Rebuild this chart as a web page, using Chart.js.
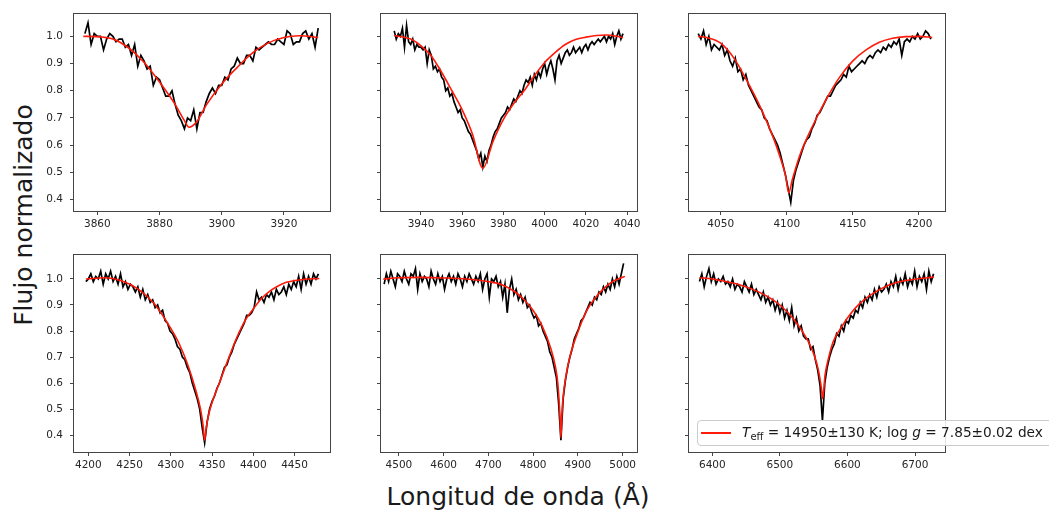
<!DOCTYPE html>
<html>
<head>
<meta charset="utf-8">
<script src="https://cdn.jsdelivr.net/npm/chart.js@4.4.0/dist/chart.umd.min.js"></script>
<style>
  body { margin: 0; background: #fff; width: 1049px; height: 514px; overflow: hidden; position: relative; font-family: 'DejaVu Sans', sans-serif; color: #1a1a1a; }
  canvas { position: absolute; }
  #ylab { position: absolute; left: 23px; top: 215px; transform: translate(-50%, -50%) rotate(-90deg); font-size: 25px; white-space: nowrap; }
  #xlab { position: absolute; left: 518px; top: 496px; transform: translate(-50%, -50%); font-size: 25px; white-space: nowrap; }
  #legend { position: absolute; left: 697px; top: 420px; width: 362px; height: 24px; border: 1px solid #cccccc; border-radius: 4px; background: rgba(255,255,255,0.85); font-size: 13.7px; display: flex; align-items: center; white-space: nowrap; z-index: 5; }
  #legend .sw { display: inline-block; width: 30px; height: 1.7px; background: #ff1a0a; margin-left: 3px; margin-right: 11px; }
  #legend sub { font-size: 10px; vertical-align: -3px; }
</style>
</head>
<body>
<div id="ylab">Flujo normalizado</div>
<div id="xlab">Longitud de onda (Å)</div>
<div id="legend"><span class="sw"></span><span><i>T</i><sub>eff</sub> = 14950±130 K; log <i>g</i> = 7.85±0.02 dex</span></div>
<script>
// tick labels
const yTicks = [0.4, 0.5, 0.6, 0.7, 0.8, 0.9, 1.0];
const xTicks1 = [3860, 3880, 3900, 3920];
const xTicks2 = [3940, 3960, 3980, 4000, 4020, 4040];
const xTicks3 = [4050, 4100, 4150, 4200];
const xTicks4 = [4200, 4250, 4300, 4350, 4400, 4450];
const xTicks5 = [4500, 4600, 4700, 4800, 4900, 5000];
const xTicks6 = [6400, 6500, 6600, 6700];

// observed spectra (uniform wavelength grid: start, step)
const obs1Grid = [3856, 1];
const obs1Flux = [1.01, 1.05, 0.97, 1.01, 1.00, 1.00, 0.95, 0.99, 1.01, 1.00,
  0.98, 0.99, 0.99, 0.96, 0.97, 0.93, 0.97, 0.89, 0.93, 0.91,
  0.88, 0.89, 0.82, 0.85, 0.84, 0.81, 0.78, 0.78, 0.80, 0.75,
  0.71, 0.69, 0.66, 0.70, 0.69, 0.73, 0.66, 0.72, 0.72, 0.76,
  0.79, 0.81, 0.79, 0.82, 0.82, 0.85, 0.84, 0.88, 0.89, 0.92,
  0.90, 0.90, 0.93, 0.93, 0.91, 0.96, 0.95, 0.96, 0.97, 0.98,
  0.97, 0.97, 0.99, 0.98, 0.97, 1.02, 1.01, 0.97, 0.98, 0.98,
  1.01, 1.02, 0.99, 1.01, 0.96, 1.03];

const obs2Grid = [3927, 1];
const obs2Flux = [1.02, 0.99, 1.01, 1.00, 1.03, 0.96, 1.04, 0.98, 0.97, 0.99,
  0.95, 0.97, 0.96, 0.96, 0.95, 0.96, 0.90, 0.95, 0.93, 0.88,
  0.89, 0.87, 0.88, 0.85, 0.84, 0.80, 0.81, 0.78, 0.79, 0.76,
  0.74, 0.72, 0.73, 0.70, 0.69, 0.67, 0.65, 0.64, 0.62, 0.60,
  0.58, 0.55, 0.57, 0.52, 0.56, 0.54, 0.58, 0.60, 0.63, 0.65,
  0.66, 0.68, 0.70, 0.71, 0.72, 0.74, 0.73, 0.75, 0.77, 0.76,
  0.78, 0.80, 0.79, 0.82, 0.84, 0.83, 0.85, 0.82, 0.86, 0.84,
  0.87, 0.85, 0.88, 0.90, 0.86, 0.89, 0.91, 0.88, 0.84, 0.91,
  0.93, 0.90, 0.92, 0.94, 0.95, 0.93, 0.94, 0.96, 0.94, 0.95,
  0.96, 0.94, 0.96, 0.97, 0.95, 0.97, 0.98, 0.97, 0.98, 0.99,
  0.98, 0.99, 1.00, 0.98, 1.00, 0.99, 1.01, 0.97, 1.00, 1.02,
  0.99, 1.01];

const obs3Grid = [4033, 2];
const obs3Flux = [1.01, 0.99, 1.02, 0.97, 1.00, 0.95, 0.97, 0.96, 0.95, 0.97,
  0.93, 0.95, 0.91, 0.89, 0.92, 0.87, 0.88, 0.84, 0.86, 0.82,
  0.80, 0.78, 0.76, 0.74, 0.73, 0.70, 0.69, 0.66, 0.64, 0.62,
  0.60, 0.57, 0.53, 0.49, 0.44, 0.39, 0.47, 0.51, 0.54, 0.57,
  0.60, 0.62, 0.63, 0.66, 0.68, 0.71, 0.72, 0.74, 0.76, 0.78,
  0.78, 0.80, 0.82, 0.83, 0.84, 0.86, 0.85, 0.89, 0.87, 0.88,
  0.89, 0.90, 0.91, 0.90, 0.92, 0.93, 0.92, 0.94, 0.95, 0.94,
  0.96, 0.95, 0.97, 0.96, 0.98, 0.97, 0.99, 0.93, 0.98, 0.99,
  0.98, 1.00, 0.99, 1.01, 0.99, 1.00, 1.02, 1.01, 0.99];

const obs4Grid = [4197, 3];
const obs4Flux = [0.99, 1.00, 1.02, 0.99, 1.01, 1.00, 1.03, 0.98, 1.02, 1.00,
  1.03, 0.99, 1.01, 0.98, 1.02, 0.97, 0.99, 0.96, 0.98, 0.97,
  0.95, 0.97, 0.93, 0.96, 0.92, 0.94, 0.91, 0.92, 0.89, 0.90,
  0.87, 0.88, 0.84, 0.83, 0.80, 0.79, 0.77, 0.74, 0.73, 0.70,
  0.69, 0.66, 0.64, 0.60, 0.57, 0.54, 0.50, 0.43, 0.37, 0.45,
  0.50, 0.53, 0.55, 0.58, 0.60, 0.63, 0.66, 0.67, 0.70, 0.72,
  0.75, 0.77, 0.79, 0.81, 0.83, 0.86, 0.86, 0.87, 0.89, 0.95,
  0.92, 0.93, 0.91, 0.94, 0.93, 0.95, 0.92, 0.96, 0.94, 0.95,
  0.97, 0.94, 0.98, 0.96, 0.99, 0.97, 1.01, 0.96, 1.02, 0.98,
  1.01, 0.98, 1.02, 1.00, 1.02];

const obs5Grid = [4467, 5];
const obs5Flux = [0.98, 1.02, 0.99, 1.03, 1.00, 0.97, 1.02, 1.01, 0.99, 1.03,
  1.00, 0.98, 1.02, 1.01, 1.04, 0.96, 1.02, 0.99, 1.01, 1.00,
  0.97, 1.03, 1.00, 0.98, 1.02, 0.99, 1.01, 0.96, 1.00, 1.02,
  0.99, 1.01, 0.98, 1.02, 1.00, 0.97, 1.01, 0.99, 1.02, 1.00,
  0.98, 1.01, 0.99, 1.02, 0.96, 1.00, 1.02, 0.93, 1.00, 0.99,
  1.01, 0.97, 0.99, 0.93, 0.98, 0.87, 0.96, 1.00, 0.94, 0.96,
  0.92, 0.94, 0.91, 0.93, 0.89, 0.90, 0.87, 0.85, 0.86, 0.82,
  0.83, 0.80, 0.78, 0.76, 0.72, 0.70, 0.66, 0.62, 0.52, 0.38,
  0.54, 0.61, 0.66, 0.70, 0.73, 0.77, 0.79, 0.81, 0.84, 0.85,
  0.87, 0.89, 0.91, 0.90, 0.93, 0.92, 0.95, 0.94, 0.97, 0.95,
  0.98, 0.96, 1.00, 0.97, 1.01, 0.98, 1.02, 1.06];

const obs6Grid = [6381, 3.5];
const obs6Flux = [0.99, 1.02, 0.97, 1.01, 1.04, 0.99, 1.02, 0.98, 1.00, 0.99,
  1.01, 0.98, 0.99, 0.97, 1.00, 0.96, 0.98, 0.97, 0.95, 0.99,
  0.97, 0.95, 0.98, 0.94, 0.96, 0.94, 0.92, 0.95, 0.91, 0.93,
  0.90, 0.92, 0.88, 0.91, 0.87, 0.90, 0.85, 0.88, 0.84, 0.89,
  0.82, 0.85, 0.80, 0.82, 0.78, 0.77, 0.77, 0.73, 0.74, 0.69,
  0.65, 0.59, 0.455,
  0.60, 0.66, 0.70, 0.73, 0.75, 0.79, 0.78,
  0.82, 0.80, 0.84, 0.83, 0.86, 0.85, 0.88, 0.87, 0.91, 0.89,
  0.93, 0.91, 0.94, 0.92, 0.96, 0.93, 0.97, 0.95, 0.96, 0.98,
  0.95, 0.99, 0.97, 1.01, 0.96, 1.00, 0.98, 1.02, 0.97, 1.00,
  0.98, 1.03, 0.97, 1.01, 0.99, 1.02, 0.96, 1.03, 0.99, 1.02];

// model fits
const model1Wave = [3855.5, 3860, 3865, 3870, 3875, 3880, 3885, 3888, 3889.5, 3892, 3895, 3900, 3905, 3910, 3915, 3920, 3925, 3931];
const model1Flux = [1.0, 0.999, 0.99, 0.958, 0.905, 0.832, 0.75, 0.69, 0.666, 0.687, 0.747, 0.825, 0.886, 0.94, 0.976, 0.996, 1.002, 0.996];

const model2Wave = [3927, 3935, 3940, 3945, 3950, 3955, 3960, 3965, 3970, 3975, 3980, 3985, 3990, 3995, 4000, 4005, 4010, 4015, 4020, 4025, 4030, 4035, 4038];
const model2Flux = [1.003, 0.99, 0.965, 0.928, 0.868, 0.80, 0.73, 0.64, 0.515, 0.615, 0.695, 0.753, 0.80, 0.855, 0.904, 0.94, 0.97, 0.988, 0.997, 1.003, 1.005, 1.0, 0.995];

const model3Wave = [4033, 4040, 4050, 4060, 4070, 4080, 4090, 4095, 4099, 4101.5, 4104, 4107, 4110, 4120, 4130, 4140, 4150, 4160, 4170, 4180, 4190, 4200, 4210];
const model3Flux = [1.0, 0.995, 0.975, 0.92, 0.835, 0.74, 0.625, 0.555, 0.49, 0.425, 0.47, 0.52, 0.565, 0.675, 0.77, 0.85, 0.91, 0.95, 0.978, 0.993, 0.999, 1.0, 0.996];

const model4Wave = [4197, 4210, 4220, 4240, 4260, 4280, 4300, 4310, 4320, 4330, 4336, 4339, 4341, 4343, 4346, 4350, 4360, 4370, 4380, 4390, 4400, 4410, 4420, 4430, 4440, 4460, 4480];
const model4Flux = [1.0, 1.003, 1.005, 0.993, 0.962, 0.905, 0.81, 0.752, 0.675, 0.575, 0.5, 0.44, 0.38, 0.43, 0.48, 0.525, 0.61, 0.695, 0.775, 0.84, 0.885, 0.925, 0.953, 0.973, 0.987, 0.998, 1.002];

const model5Wave = [4465, 4500, 4550, 4600, 4650, 4700, 4730, 4760, 4780, 4800, 4820, 4840, 4850, 4855, 4860, 4862, 4864, 4866, 4875, 4885, 4900, 4920, 4940, 4960, 4980, 5005];
const model5Flux = [0.999, 1.005, 1.006, 1.004, 1.0, 0.99, 0.978, 0.95, 0.92, 0.879, 0.82, 0.73, 0.66, 0.60, 0.47, 0.39, 0.47, 0.53, 0.645, 0.72, 0.797, 0.879, 0.93, 0.967, 0.992, 1.01];

const model6Wave = [6381, 6400, 6420, 6440, 6460, 6480, 6500, 6520, 6540, 6550, 6557, 6562, 6563.3, 6567, 6572, 6579, 6590, 6600, 6618, 6648, 6678, 6700, 6728];
const model6Flux = [1.005, 1.0, 0.99, 0.978, 0.96, 0.935, 0.90, 0.847, 0.77, 0.713, 0.65, 0.57, 0.54, 0.633, 0.696, 0.76, 0.81, 0.85, 0.905, 0.96, 0.99, 0.999, 1.007];

function gridWave(g, n) { return Array.from({ length: n }, (_, i) => g[0] + i * g[1]); }
function pts(xs, ys) { return xs.map((x, i) => ({ x: x, y: ys[i] })); }

const PAD_L = 60, PAD_R = 10, PAD_T = 10, PAD_B = 30, AREA_W = 256, AREA_H = 200;
const rows = [{ top: 11, yMin: 0.358, yMax: 1.081 }, { top: 252, yMin: 0.335, yMax: 1.091 }];
const cols = [74, 381, 689];

const panels = [
  { row: 0, col: 0, xMin: 3852.5, xMax: 3934.8, xTicks: xTicks1, obsGrid: obs1Grid, obsFlux: obs1Flux, mWave: model1Wave, mFlux: model1Flux },
  { row: 0, col: 1, xMin: 3920.6, xMax: 4044.8, xTicks: xTicks2, obsGrid: obs2Grid, obsFlux: obs2Flux, mWave: model2Wave, mFlux: model2Flux },
  { row: 0, col: 2, xMin: 4026, xMax: 4219.7, xTicks: xTicks3, obsGrid: obs3Grid, obsFlux: obs3Flux, mWave: model3Wave, mFlux: model3Flux },
  { row: 1, col: 0, xMin: 4182.6, xMax: 4493, xTicks: xTicks4, obsGrid: obs4Grid, obsFlux: obs4Flux, mWave: model4Wave, mFlux: model4Flux },
  { row: 1, col: 1, xMin: 4460, xMax: 5032, xTicks: xTicks5, obsGrid: obs5Grid, obsFlux: obs5Flux, mWave: model5Wave, mFlux: model5Flux },
  { row: 1, col: 2, xMin: 6365.5, xMax: 6744.4, xTicks: xTicks6, obsGrid: obs6Grid, obsFlux: obs6Flux, mWave: model6Wave, mFlux: model6Flux },
];

const boxPlugin = {
  id: 'box',
  afterDraw(chart) {
    const a = chart.chartArea, c = chart.ctx;
    c.save();
    c.strokeStyle = '#444';
    c.lineWidth = 1;
    c.strokeRect(Math.round(a.left) - 0.5, Math.round(a.top) - 0.5, Math.round(a.right - a.left) + 1, Math.round(a.bottom - a.top) + 1);
    c.restore();
  }
};

const tickFont = { family: "'DejaVu Sans', sans-serif", size: 10.5 };

panels.forEach(function (p) {
  const row = rows[p.row];
  const cv = document.createElement('canvas');
  cv.width = AREA_W + PAD_L + PAD_R;
  cv.height = AREA_H + PAD_T + PAD_B;
  cv.style.left = (cols[p.col] - PAD_L) + 'px';
  cv.style.top = (row.top - PAD_T) + 'px';
  document.body.appendChild(cv);

  const obsWave = gridWave(p.obsGrid, p.obsFlux.length);

  new Chart(cv.getContext('2d'), {
    type: 'line',
    data: {
      datasets: [
        { label: 'obs', data: pts(obsWave, p.obsFlux), borderColor: '#000', borderWidth: 1.7, pointRadius: 0, tension: 0, order: 2 },
        { label: 'model', data: pts(p.mWave, p.mFlux), borderColor: '#ff1a0a', borderWidth: 1.6, pointRadius: 0, cubicInterpolationMode: 'monotone', order: 1 },
      ],
    },
    options: {
      responsive: false,
      animation: false,
      devicePixelRatio: 1,
      layout: { padding: { top: PAD_T, right: PAD_R, left: 0, bottom: 0 } },
      plugins: { legend: { display: false }, tooltip: { enabled: false } },
      scales: {
        x: {
          type: 'linear', min: p.xMin, max: p.xMax,
          afterBuildTicks: s => { s.ticks = p.xTicks.map(v => ({ value: v })); },
          afterFit: s => { s.height = PAD_B; },
          grid: { drawOnChartArea: false, tickLength: 4, color: '#444', tickColor: '#444' },
          border: { display: false },
          ticks: { font: tickFont, color: '#262626', padding: 3, maxRotation: 0, autoSkip: false, callback: v => String(v) },
        },
        y: {
          type: 'linear', min: row.yMin, max: row.yMax,
          afterBuildTicks: s => { s.ticks = yTicks.map(v => ({ value: v })); },
          afterFit: s => { s.width = PAD_L; },
          grid: { drawOnChartArea: false, tickLength: 4, color: '#444', tickColor: '#444' },
          border: { display: false },
          ticks: { font: tickFont, color: '#262626', padding: 7, autoSkip: false, callback: v => (p.col === 0 ? v.toFixed(1) : '') },
        },
      },
    },
    plugins: [boxPlugin],
  });
});
</script>
</body>
</html>
